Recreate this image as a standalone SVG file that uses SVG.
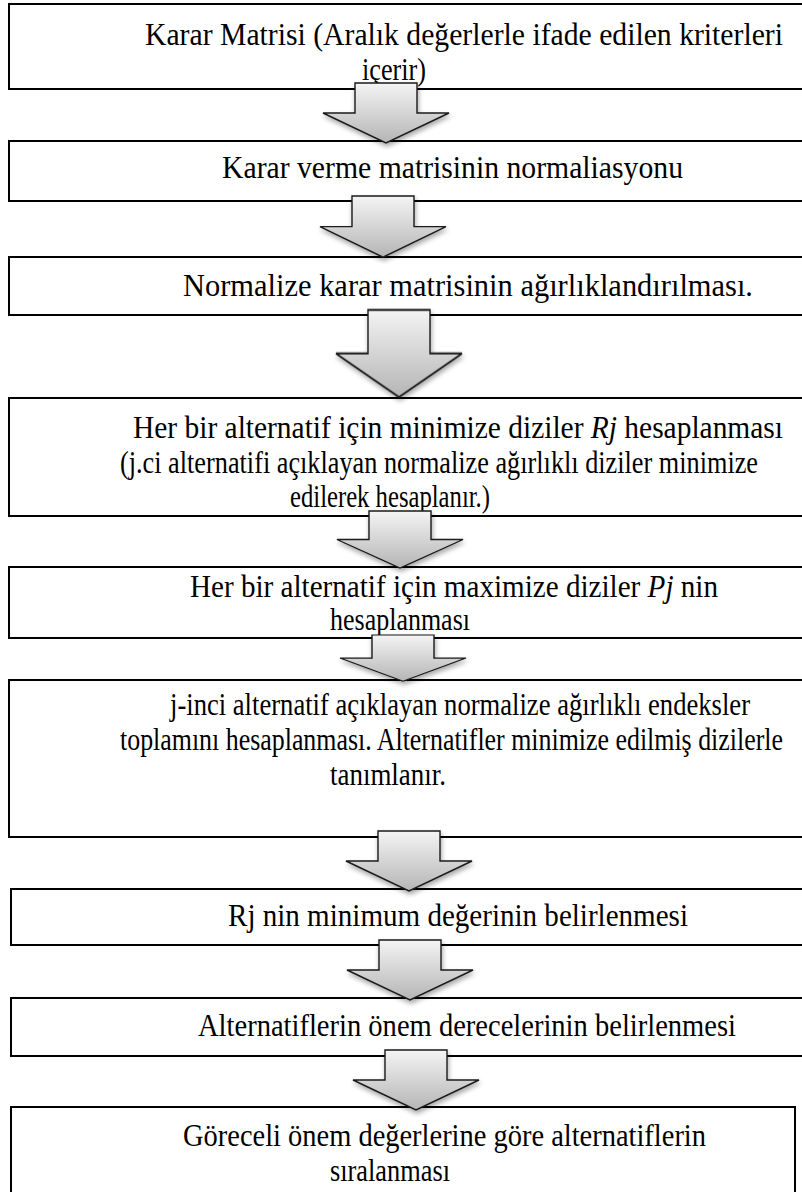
<svg xmlns="http://www.w3.org/2000/svg" width="802" height="1192" viewBox="0 0 802 1192">
<defs>
<linearGradient id="ag" x1="0" y1="0" x2="0" y2="1">
<stop offset="0" stop-color="#f4f4f4"/>
<stop offset="1" stop-color="#b5b5b5"/>
</linearGradient>
<filter id="sh" x="-30%" y="-30%" width="160%" height="160%">
<feGaussianBlur in="SourceAlpha" stdDeviation="2.5"/>
<feOffset dx="1" dy="3" result="b"/>
<feComponentTransfer><feFuncA type="linear" slope="0.35"/></feComponentTransfer>
<feMerge><feMergeNode/><feMergeNode in="SourceGraphic"/></feMerge>
</filter>
<path id="arr" d="M-31,0 H31 V30 H63 L0,60 L-63,30 H-31 Z"/>
</defs>
<style>
.box{fill:#fff;stroke:#000;stroke-width:2}
.t{font-family:"Liberation Serif","Times New Roman",serif;font-size:31px;fill:#000}
.a{fill:url(#ag);stroke:#1a1a1a;stroke-width:1.4;stroke-linejoin:miter}
</style>
<g id="nodes">
<g id="n1"><rect class="box" x="9" y="4" width="800" height="85"/>
<text class="t" x="145" y="45" textLength="638" lengthAdjust="spacingAndGlyphs">Karar Matrisi (Aralık değerlerle ifade edilen kriterleri</text>
<text class="t" x="362" y="80" textLength="64" lengthAdjust="spacingAndGlyphs">içerir)</text></g>
<g id="n2"><rect class="box" x="9" y="141" width="800" height="60"/>
<text class="t" x="222" y="178" textLength="461" lengthAdjust="spacingAndGlyphs">Karar verme matrisinin normaliasyonu</text></g>
<g id="n3"><rect class="box" x="9" y="257" width="800" height="58"/>
<text class="t" x="183" y="296" textLength="570" lengthAdjust="spacingAndGlyphs">Normalize karar matrisinin ağırlıklandırılması.</text></g>
<g id="n4"><rect class="box" x="9" y="398" width="800" height="118"/>
<text class="t" x="133" y="438" textLength="650" lengthAdjust="spacingAndGlyphs">Her bir alternatif için minimize diziler <tspan font-style="italic">Rj</tspan> hesaplanması</text>
<text class="t" x="120" y="473" textLength="638" lengthAdjust="spacingAndGlyphs">(j.ci alternatifi açıklayan normalize ağırlıklı diziler minimize</text>
<text class="t" x="290" y="507" textLength="200" lengthAdjust="spacingAndGlyphs">edilerek hesaplanır.)</text></g>
<g id="n5"><rect class="box" x="9" y="567" width="800" height="71"/>
<text class="t" x="190" y="597" textLength="528" lengthAdjust="spacingAndGlyphs">Her bir alternatif için maximize diziler <tspan font-style="italic">Pj</tspan> nin</text>
<text class="t" x="330" y="630" textLength="140" lengthAdjust="spacingAndGlyphs">hesaplanması</text></g>
<g id="n6"><rect class="box" x="9" y="680" width="800" height="157"/>
<text class="t" x="170" y="715" textLength="580" lengthAdjust="spacingAndGlyphs">j-inci alternatif açıklayan normalize ağırlıklı endeksler</text>
<text class="t" x="120" y="750" textLength="663" lengthAdjust="spacingAndGlyphs">toplamını hesaplanması. Alternatifler minimize edilmiş dizilerle</text>
<text class="t" x="330" y="785" textLength="116" lengthAdjust="spacingAndGlyphs">tanımlanır.</text></g>
<g id="n7"><rect class="box" x="11" y="889" width="800" height="56"/>
<text class="t" x="228" y="926" textLength="460" lengthAdjust="spacingAndGlyphs">Rj nin minimum değerinin belirlenmesi</text></g>
<g id="n8"><rect class="box" x="11" y="998" width="800" height="58"/>
<text class="t" x="198" y="1036" textLength="538" lengthAdjust="spacingAndGlyphs">Alternatiflerin önem derecelerinin belirlenmesi</text></g>
<g id="n9"><rect class="box" x="11" y="1107" width="784" height="90"/>
<text class="t" x="183" y="1146" textLength="523" lengthAdjust="spacingAndGlyphs">Göreceli önem değerlerine göre alternatiflerin</text>
<text class="t" x="330" y="1181" textLength="120" lengthAdjust="spacingAndGlyphs">sıralanması</text></g>
</g>
<g id="connectors" filter="url(#sh)">
<use href="#arr" class="a" transform="translate(386,83)"/>
<use href="#arr" class="a" transform="translate(383,196) scale(1,1.02)"/>
<use href="#arr" class="a" transform="translate(399,310) scale(1,1.45)"/>
<use href="#arr" class="a" transform="translate(400,511) scale(1,0.95)"/>
<use href="#arr" class="a" transform="translate(403,635) scale(1,0.77)"/>
<use href="#arr" class="a" transform="translate(409,831)"/>
<use href="#arr" class="a" transform="translate(410,940)"/>
<use href="#arr" class="a" transform="translate(416,1050)"/>
</g>
</svg>
